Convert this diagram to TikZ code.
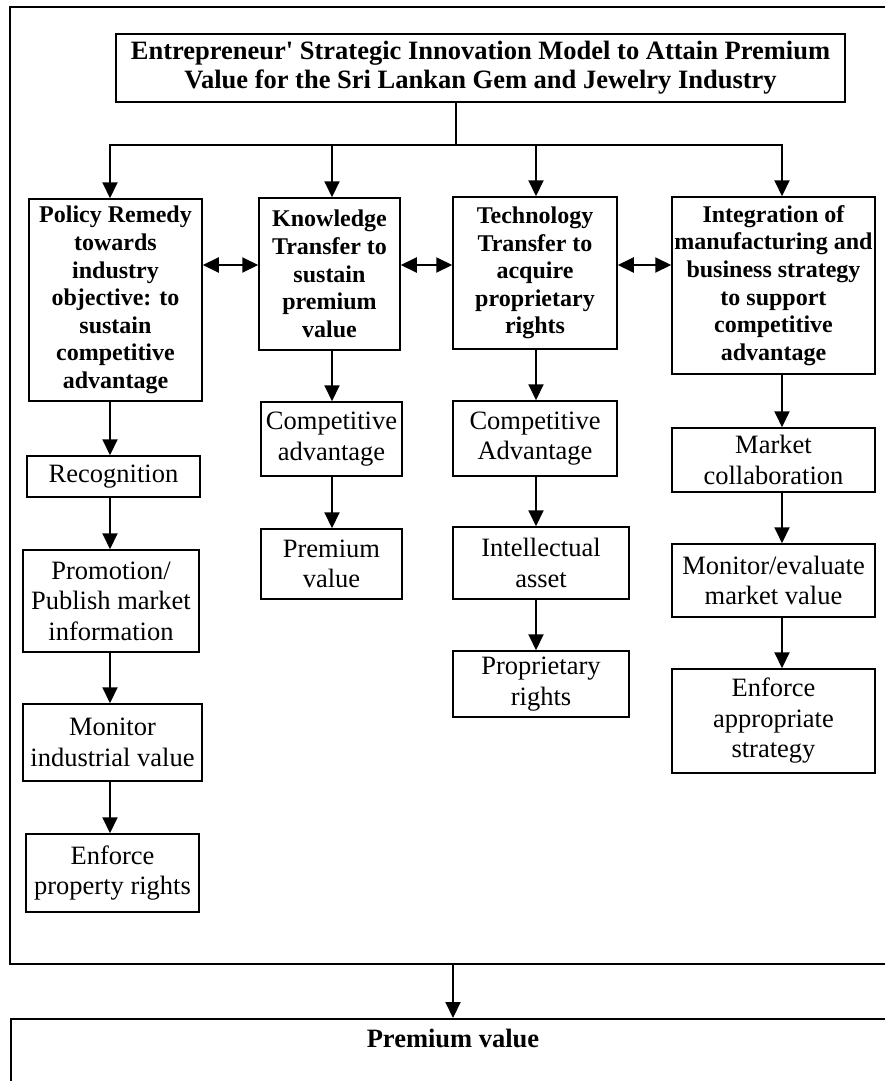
\documentclass[tikz,border=0pt]{standalone}
\usepackage{fontspec}
\setmainfont{Liberation Serif}
\usetikzlibrary{arrows.meta}
\begin{document}
\begin{tikzpicture}[x=1pt,y=-1pt,
  box/.style={draw,line width=1.5pt,align=center,inner sep=0pt,font=\fontsize{26.5}{30.5}\selectfont},
  bbox/.style={box,font=\fontsize{24}{27.6}\selectfont\bfseries},
  tbox/.style={box,font=\fontsize{26.5}{29}\selectfont\bfseries},
  ln/.style={line width=2pt},
  arr/.style={line width=2pt,-{Triangle[width=15pt,length=16pt]}},
  darr/.style={line width=2pt,{Triangle[width=15pt,length=16pt]}-{Triangle[width=15pt,length=16pt]}}]
\useasboundingbox (0,0) rectangle (885,1081);
\clip (0,0) rectangle (885,1081);
% outer frame and final box
\node[draw,line width=2pt,inner sep=0pt,minimum width=890pt,minimum height=957pt] (frame) at (454.5,485.5) {};
\node[draw,line width=2pt,inner sep=0pt,minimum width=890pt,minimum height=120pt,anchor=north west] (final) at (9.5,1018) {};
\node[font=\fontsize{26.5}{30.5}\selectfont\bfseries,inner sep=0pt] (finaltxt) at (453,1038) {Premium value};
% title
\node[tbox,minimum width=729pt,minimum height=68pt] (title) at (480.5,68)
  {Entrepreneur\textquotesingle{} Strategic Innovation Model to Attain Premium\\Value for the Sri Lankan Gem and Jewelry Industry};
% main boxes
\node[bbox,minimum width=173pt,minimum height=202pt] (policy) at (115.5,300)
  {Policy Remedy\\towards\\industry\\objective: to\\sustain\\competitive\\advantage};
\node[bbox,minimum width=141pt,minimum height=152pt] (know) at (329.5,274)
  {Knowledge\\Transfer to\\sustain\\premium\\value};
\node[bbox,minimum width=164pt,minimum height=152pt] (tech) at (535,273)
  {Technology\\Transfer to\\acquire\\proprietary\\rights};
\node[bbox,minimum width=203pt,minimum height=177pt] (integ) at (773.5,285.5)
  {Integration of\\manufacturing and\\business strategy\\to support\\competitive\\advantage};
% column 1
\node[box,minimum width=173pt,minimum height=41pt] (recog) at (113.5,476.5) {Recognition};
\node[box,minimum width=176pt,minimum height=102pt] (promo) at (111,601) {Promotion/\\Publish market\\information};
\node[box,minimum width=179pt,minimum height=77pt] (monind) at (112.5,742.5) {Monitor\\industrial value};
\node[box,minimum width=173pt,minimum height=78pt] (enfprop) at (112.5,873) {Enforce\\property rights};
% column 2
\node[box,minimum width=141pt,minimum height=74pt] (compk) at (331.5,439) {Competitive\\advantage};
\node[box,minimum width=141pt,minimum height=70pt] (premk) at (331.5,564) {Premium\\value};
% column 3
\node[box,minimum width=164pt,minimum height=75pt] (compt) at (535,438.5) {Competitive\\Advantage};
\node[box,minimum width=176pt,minimum height=72pt] (intel) at (541,563) {Intellectual\\asset};
\node[box,minimum width=176pt,minimum height=66pt] (propr) at (541,684) {Proprietary\\rights};
% column 4
\node[box,minimum width=203pt,minimum height=64pt] (market) at (773.5,460) {Market\\collaboration};
\node[box,minimum width=203pt,minimum height=73pt] (moneval) at (773.5,580.5) {Monitor/evaluate\\market value};
\node[box,minimum width=203pt,minimum height=104pt] (enfstrat) at (773.5,721) {Enforce\\appropriate\\strategy};
% helper coordinates
\coordinate (stem) at (456,145);
\coordinate (c1) at (110,0);
\coordinate (c2) at (332,0);
\coordinate (c3) at (536,0);
\coordinate (c4) at (782,0);
\coordinate (h) at (0,265);
% tree from title
\draw[ln] (stem |- title.south) -- (stem);
\draw[arr] (stem) -- (c1 |- stem) -- (c1 |- policy.north);
\draw[arr] (stem) -- (c4 |- stem) -- (c4 |- integ.north);
\draw[arr] (c2 |- stem) -- (c2 |- know.north);
\draw[arr] (c3 |- stem) -- (c3 |- tech.north);
% double arrows
\draw[darr] (policy.east |- h) -- (know.west |- h);
\draw[darr] (know.east |- h) -- (tech.west |- h);
\draw[darr] (tech.east |- h) -- (integ.west |- h);
% column arrows
\draw[arr] (c1 |- policy.south) -- (c1 |- recog.north);
\draw[arr] (c1 |- recog.south) -- (c1 |- promo.north);
\draw[arr] (c1 |- promo.south) -- (c1 |- monind.north);
\draw[arr] (c1 |- monind.south) -- (c1 |- enfprop.north);
\draw[arr] (c2 |- know.south) -- (c2 |- compk.north);
\draw[arr] (c2 |- compk.south) -- (c2 |- premk.north);
\draw[arr] (c3 |- tech.south) -- (c3 |- compt.north);
\draw[arr] (c3 |- compt.south) -- (c3 |- intel.north);
\draw[arr] (c3 |- intel.south) -- (c3 |- propr.north);
\draw[arr] (c4 |- integ.south) -- (c4 |- market.north);
\draw[arr] (c4 |- market.south) -- (c4 |- moneval.north);
\draw[arr] (c4 |- moneval.south) -- (c4 |- enfstrat.north);
% to final
\draw[arr] (finaltxt |- frame.south) -- (finaltxt |- final.north);
\end{tikzpicture}
\end{document}
